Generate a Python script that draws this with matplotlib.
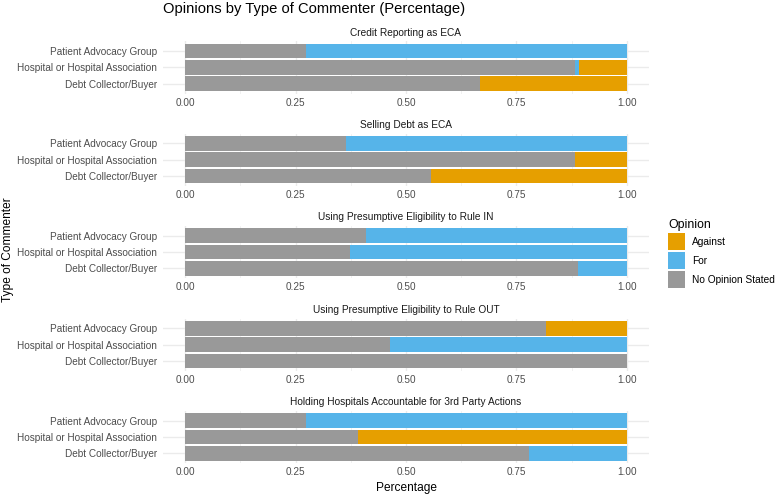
import matplotlib
matplotlib.use("Agg")
from matplotlib import pyplot as plt
from matplotlib.patches import Patch
import numpy as np

plt.rcParams['font.family'] = ['Liberation Sans', 'DejaVu Sans']

# facets, top to bottom
questions = [
    "Credit Reporting as ECA",
    "Selling Debt as ECA",
    "Using Presumptive Eligibility to Rule IN",
    "Using Presumptive Eligibility to Rule OUT",
    "Holding Hospitals Accountable for 3rd Party Actions",
]
# y order bottom -> top
commenters = ["Debt Collector/Buyer", "Hospital or Hospital Association", "Patient Advocacy Group"]

# shares per question, each row follows the commenters order
no_opinion = [
    [0.667, 0.882, 0.273],
    [0.556, 0.882, 0.364],
    [0.889, 0.373, 0.409],
    [1.000, 0.463, 0.818],
    [0.778, 0.391, 0.273],
]
for_share = [
    [0.000, 0.009, 0.727],
    [0.000, 0.000, 0.636],
    [0.111, 0.627, 0.591],
    [0.000, 0.537, 0.000],
    [0.222, 0.000, 0.727],
]
against = [
    [0.333, 0.109, 0.000],
    [0.444, 0.118, 0.000],
    [0.000, 0.000, 0.000],
    [0.000, 0.000, 0.182],
    [0.000, 0.609, 0.000],
]

opinions = ["Against", "For", "No Opinion Stated"]
colors = {"Against": "#E69F00", "For": "#56B4E9", "No Opinion Stated": "#999999"}

W, H = 778, 495
fig = plt.figure(figsize=(W / 100, H / 100), dpi=100)


def fx(px):
    return px / W


def fy(py):
    return 1 - py / H


left, right = 163, 649
panel_h = 52.2
bottoms = [93.5, 185.9, 278.2, 370.8, 463.2]
grid_col = "#EBEBEB"
text_col = "#4D4D4D"

y = np.arange(1, len(commenters) + 1)
for i, q in enumerate(questions):
    b = bottoms[i]
    ax = fig.add_axes([fx(left), fy(b), fx(right - left), panel_h / H])
    no = np.array(no_opinion[i])
    fo = np.array(for_share[i])
    ag = np.array(against[i])
    ax.barh(y, no, height=0.9, color=colors["No Opinion Stated"], zorder=2)
    ax.barh(y, fo, left=no, height=0.9, color=colors["For"], zorder=2)
    ax.barh(y, ag, left=no + fo, height=0.9, color=colors["Against"], zorder=2)

    ax.set_xlim(-0.05, 1.05)
    ax.set_ylim(0.4, 3.6)
    ax.set_xticks([0, 0.25, 0.5, 0.75, 1.0])
    ax.set_xticklabels(["0.00", "0.25", "0.50", "0.75", "1.00"])
    ax.set_xticks([0.125, 0.375, 0.625, 0.875], minor=True)
    ax.set_yticks(y)
    ax.set_yticklabels(commenters)
    ax.grid(True, which="major", color=grid_col, linewidth=1.0, zorder=0)
    ax.grid(True, which="minor", axis="x", color=grid_col, linewidth=0.5, zorder=0)
    ax.tick_params(which="both", length=0, labelsize=7.2, colors=text_col)
    ax.tick_params(axis="x", pad=3)
    ax.tick_params(axis="y", pad=4.5)
    for s in ax.spines.values():
        s.set_visible(False)
    ax.set_facecolor("none")
    ax.set_title(q, fontsize=7.3, color="#1A1A1A", pad=4)

fig.text(fx(163), fy(9.5), "Opinions by Type of Commenter (Percentage)",
         fontsize=10.6, ha="left", va="center", color="black")
fig.text(fx((left + right) / 2), fy(488), "Percentage", fontsize=8.6,
         ha="center", va="center", color="black")
fig.text(fx(8), fy(250), "Type of Commenter", fontsize=8.6, rotation=90,
         ha="center", va="center", color="black")

handles = [Patch(facecolor=colors[o], edgecolor="none") for o in opinions]
leg = fig.legend(handles, opinions, loc="upper left",
                 bbox_to_anchor=(fx(660), fy(211)), frameon=False,
                 fontsize=7.3, title="Opinion", title_fontsize=8.8,
                 handlelength=1.7, handleheight=2.2, labelspacing=0.2,
                 handletextpad=0.7, borderpad=0.3)
leg._legend_box.align = "left"

fig.savefig("out.png", dpi=100)
